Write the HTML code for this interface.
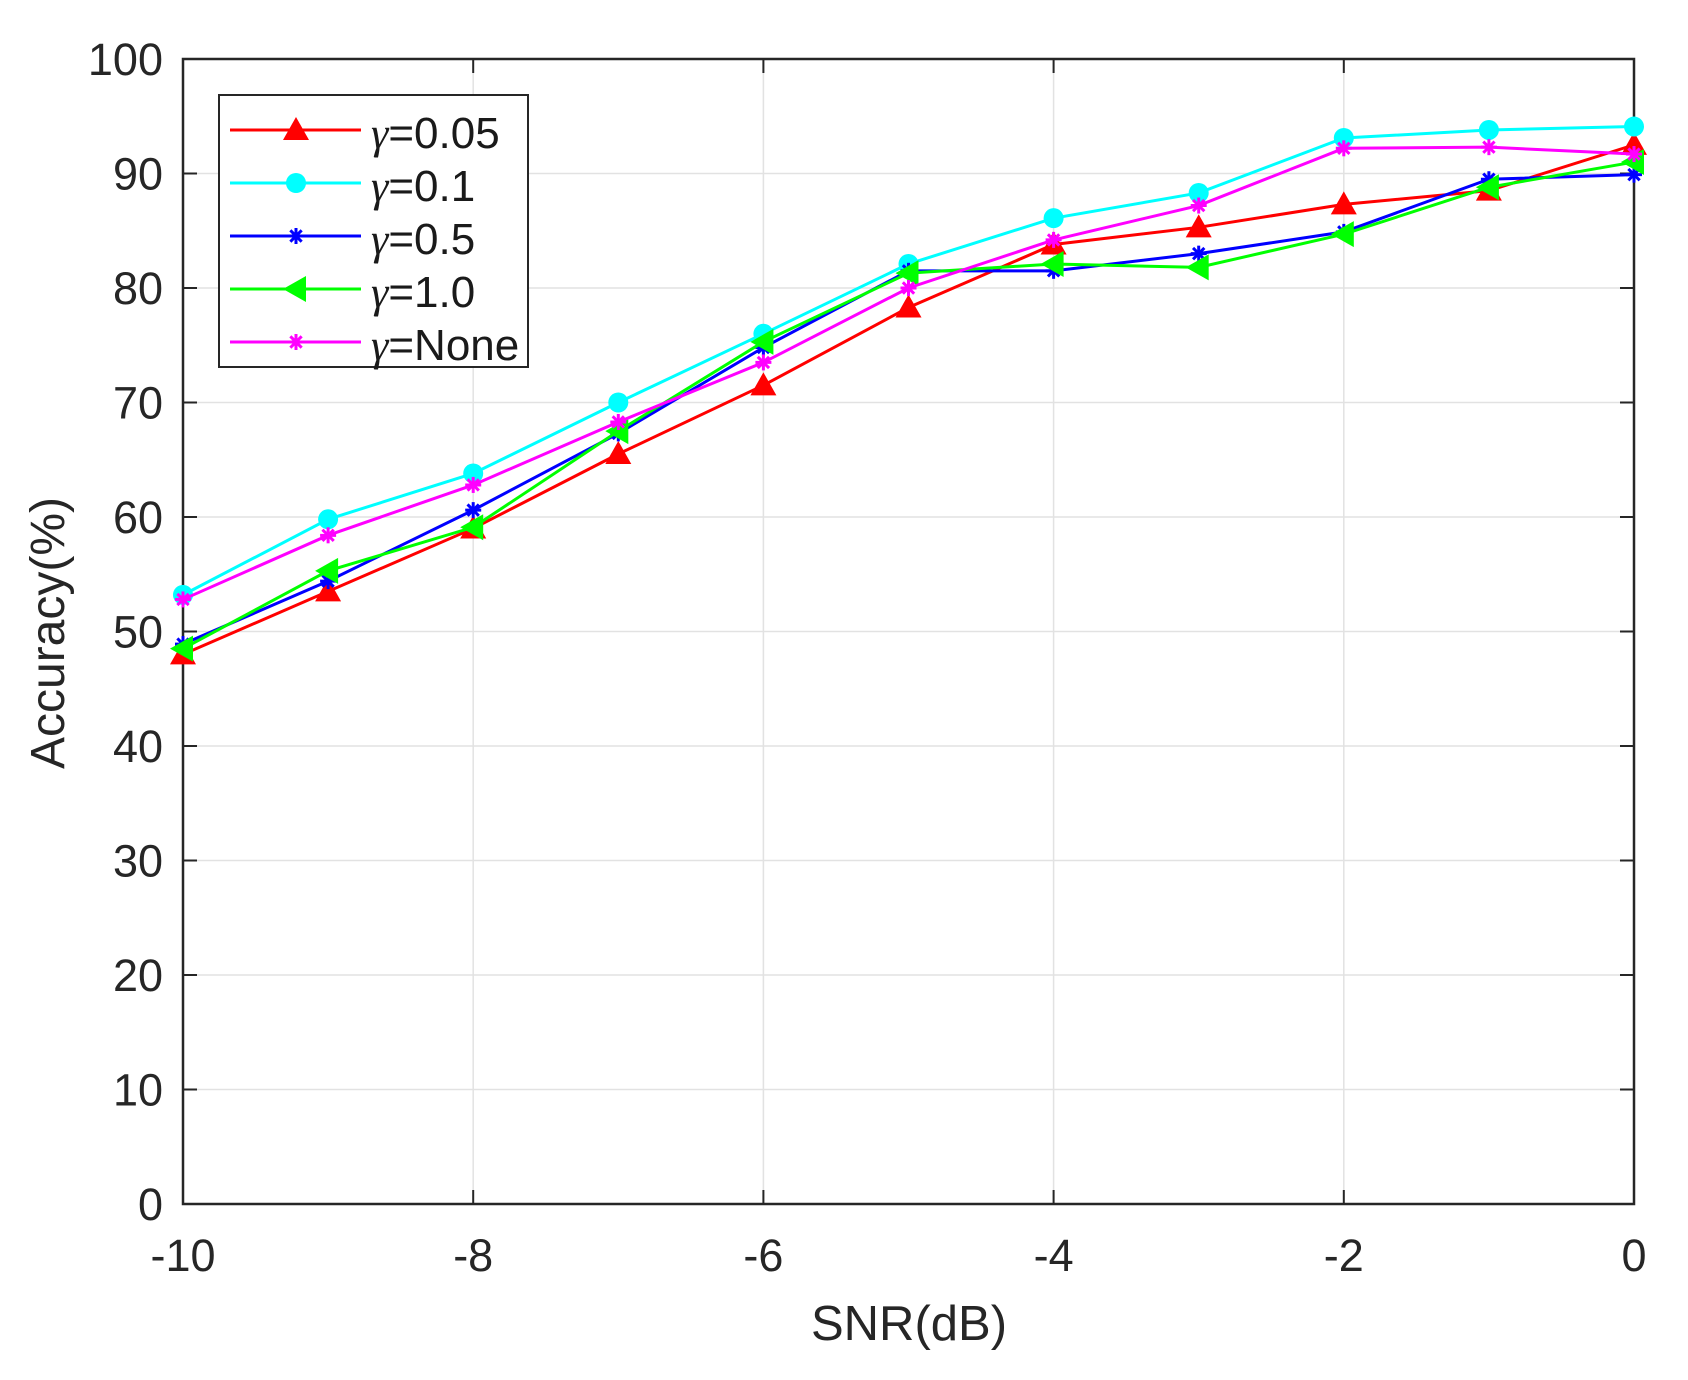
<!DOCTYPE html>
<html><head><meta charset="utf-8"><style>
html,body{margin:0;padding:0;background:#fff;}
svg{display:block;font-family:"Liberation Sans",Arial,sans-serif;}
</style></head><body>
<svg id="s" width="1688" height="1380" xmlns="http://www.w3.org/2000/svg"></svg>
<script>
const s=document.getElementById('s');
const L=183,R=1634,T=59,B=1204;
const X=v=>L+(v+10)*(R-L)/10, Y=v=>B-v*(B-T)/100;
let h='<rect width="1688" height="1380" fill="#fff"/>';
for(let i=-10;i<=0;i+=2){const x=X(i);h+=`<line x1="${x}" y1="${T}" x2="${x}" y2="${B}" stroke="#e2e2e2" stroke-width="1.5"/>`;
h+=`<line x1="${x}" y1="${B}" x2="${x}" y2="${B-14}" stroke="#262626" stroke-width="2"/><line x1="${x}" y1="${T}" x2="${x}" y2="${T+14}" stroke="#262626" stroke-width="2"/>`;
h+=`<text x="${x}" y="1271" font-size="45" fill="#262626" text-anchor="middle">${i}</text>`;}
for(let v=0;v<=100;v+=10){const y=Y(v);h+=`<line x1="${L}" y1="${y}" x2="${R}" y2="${y}" stroke="#e2e2e2" stroke-width="1.5"/>`;
h+=`<line x1="${L}" y1="${y}" x2="${L+14}" y2="${y}" stroke="#262626" stroke-width="2"/><line x1="${R}" y1="${y}" x2="${R-14}" y2="${y}" stroke="#262626" stroke-width="2"/>`;
h+=`<text x="163" y="${y+16}" font-size="45" fill="#262626" text-anchor="end">${v}</text>`;}
h+=`<rect x="${L}" y="${T}" width="${R-L}" height="${B-T}" fill="none" stroke="#262626" stroke-width="2.5"/>`;
h+=`<text x="909" y="1340" font-size="49" fill="#262626" text-anchor="middle">SNR(dB)</text>`;
h+=`<text transform="translate(64,633) rotate(-90)" font-size="48" fill="#262626" text-anchor="middle">Accuracy(%)</text>`;
function mk(t,x,y,c){
 if(t=='tri')return `<polygon points="${x},${y-13} ${x+13},${y+10} ${x-13},${y+10}" fill="${c}"/>`;
 if(t=='circ')return `<circle cx="${x}" cy="${y}" r="10" fill="${c}"/>`;
 if(t=='left')return `<polygon points="${x-13},${y} ${x+10},${y-13} ${x+10},${y+13}" fill="${c}"/>`;
 let r=8,o='';for(let a=0;a<180;a+=45){const dx=r*Math.cos(a*Math.PI/180),dy=r*Math.sin(a*Math.PI/180);o+=`<line x1="${x-dx}" y1="${y-dy}" x2="${x+dx}" y2="${y+dy}" stroke="${c}" stroke-width="3"/>`;}return o;}
const S=[
['#ff0000','tri',[48,53.5,59,65.5,71.5,78.3,83.8,85.3,87.3,88.5,92.5],'0.05'],
['#00ffff','circ',[53.2,59.8,63.8,70,76,82.1,86.1,88.3,93.1,93.8,94.1],'0.1'],
['#0000ff','ast',[48.9,54.4,60.6,67.3,74.8,81.5,81.5,83,84.9,89.5,89.9],'0.5'],
['#00ff00','left',[48.5,55.3,59.1,67.5,75.3,81.3,82.1,81.8,84.7,88.8,91],'1.0'],
['#ff00ff','ast',[52.8,58.4,62.8,68.3,73.5,80,84.2,87.2,92.2,92.3,91.7],'None']];
S.forEach(([c,m,d])=>{h+=`<polyline fill="none" stroke="${c}" stroke-width="3" points="${d.map((v,i)=>X(i-10)+','+Y(v)).join(' ')}"/>`;d.forEach((v,i)=>h+=mk(m,X(i-10),Y(v),c));});
h+=`<rect x="219" y="95" width="309" height="272" fill="#fff" stroke="#262626" stroke-width="2"/>`;
S.forEach(([c,m,d,lab],k)=>{const y=130+k*53;h+=`<line x1="230" y1="${y}" x2="361" y2="${y}" stroke="${c}" stroke-width="3"/>`+mk(m,296,y,c);
h+=`<text x="371" y="${y+18}" font-size="44" fill="#1a1a1a"><tspan font-family="Liberation Serif,serif" font-style="italic">γ</tspan>=${lab}</text>`;});
s.innerHTML=h;
</script>
</body></html>
